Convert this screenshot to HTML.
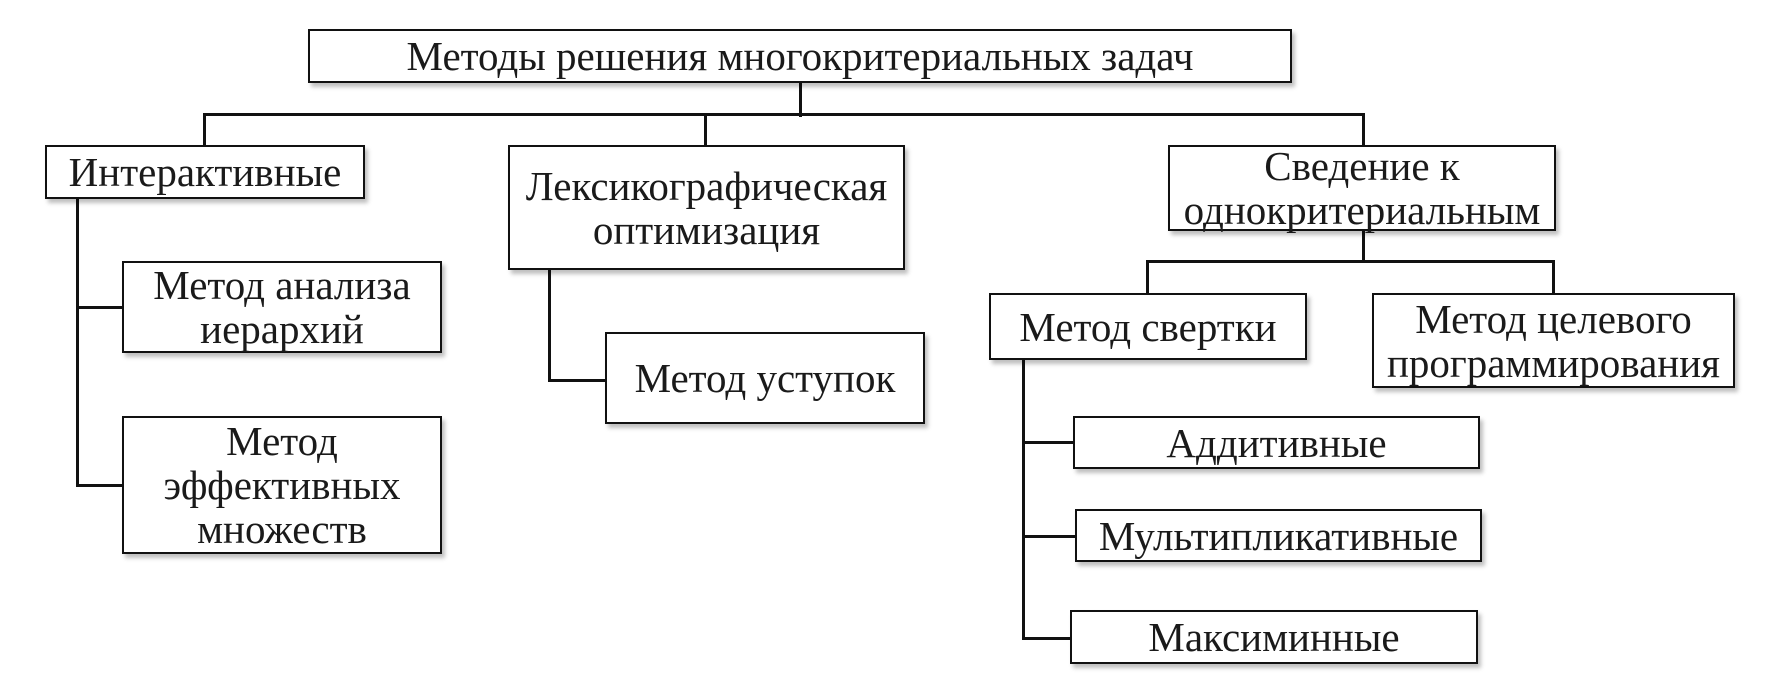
<!DOCTYPE html>
<html><head><meta charset="utf-8"><style>
body{margin:0;width:1769px;height:693px;background:#fff;position:relative;overflow:hidden;font-family:"Liberation Serif",serif;color:#1a1a1a}
.b{position:absolute;box-sizing:border-box;border:2.5px solid #111;background:#fff;display:flex;align-items:center;justify-content:center;text-align:center;font-size:41px;line-height:44px;box-shadow:3px 4px 4px rgba(0,0,0,0.25);white-space:nowrap}
.l{position:absolute;background:#111}
</style></head><body>
<div class="l" style="left:799px;top:83px;width:3px;height:34px"></div>
<div class="l" style="left:203px;top:113px;width:1162px;height:3px"></div>
<div class="l" style="left:203px;top:113px;width:3px;height:33px"></div>
<div class="l" style="left:704px;top:113px;width:3px;height:33px"></div>
<div class="l" style="left:1362px;top:113px;width:3px;height:33px"></div>
<div class="l" style="left:76px;top:199px;width:3px;height:287px"></div>
<div class="l" style="left:76px;top:306px;width:47px;height:3px"></div>
<div class="l" style="left:76px;top:484px;width:47px;height:3px"></div>
<div class="l" style="left:548px;top:270px;width:3px;height:111px"></div>
<div class="l" style="left:548px;top:379px;width:58px;height:3px"></div>
<div class="l" style="left:1362px;top:231px;width:3px;height:31px"></div>
<div class="l" style="left:1146px;top:260px;width:409px;height:3px"></div>
<div class="l" style="left:1146px;top:260px;width:3px;height:34px"></div>
<div class="l" style="left:1552px;top:260px;width:3px;height:34px"></div>
<div class="l" style="left:1022px;top:360px;width:3px;height:279px"></div>
<div class="l" style="left:1022px;top:441px;width:52px;height:3px"></div>
<div class="l" style="left:1022px;top:535px;width:54px;height:3px"></div>
<div class="l" style="left:1022px;top:637px;width:49px;height:3px"></div>

<div class="b" style="left:308px;top:29px;width:984px;height:54px">Методы решения многокритериальных задач</div>
<div class="b" style="left:45px;top:145px;width:320px;height:54px">Интерактивные</div>
<div class="b" style="left:508px;top:145px;width:397px;height:125px">Лексикографическая<br>оптимизация</div>
<div class="b" style="left:1168px;top:145px;width:388px;height:86px">Сведение к<br>однокритериальным</div>
<div class="b" style="left:122px;top:261px;width:320px;height:92px">Метод анализа<br>иерархий</div>
<div class="b" style="left:122px;top:416px;width:320px;height:138px">Метод<br>эффективных<br>множеств</div>
<div class="b" style="left:605px;top:332px;width:320px;height:92px">Метод уступок</div>
<div class="b" style="left:989px;top:293px;width:318px;height:67px">Метод свертки</div>
<div class="b" style="left:1372px;top:293px;width:363px;height:95px">Метод целевого<br>программирования</div>
<div class="b" style="left:1073px;top:416px;width:407px;height:53px">Аддитивные</div>
<div class="b" style="left:1075px;top:509px;width:407px;height:53px">Мультипликативные</div>
<div class="b" style="left:1070px;top:610px;width:408px;height:54px">Максиминные</div>
</body></html>
